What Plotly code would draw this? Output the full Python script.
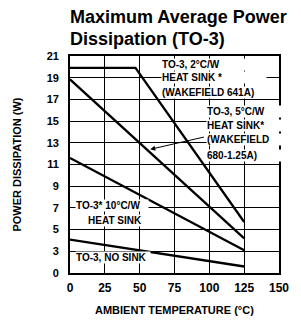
import plotly.graph_objects as go

# Ambient temperature (°C) and power dissipation (W, read on the chart's own scale)
temp_2cw = [0, 47, 125]
pd_2cw = [19.9, 19.9, 5.7]
temp_5cw = [0, 125]
pd_5cw = [18.85, 4.2]
temp_10cw = [0, 125]
pd_10cw = [11.6, 3.1]
temp_nosink = [0, 125]
pd_nosink = [4.07, 1.6]

x_ticks = [0, 25, 50, 75, 100, 125, 150]
y_tickvals = [1, 3, 5, 7, 9, 11, 13, 15, 17, 19, 21]
y_ticktext = ["0", "3", "5", "7", "9", "11", "13", "15", "17", "19", "21"]

FONT = "Liberation Sans, Arial, Helvetica, sans-serif"

fig = go.Figure()
for xs, ys in [(temp_2cw, pd_2cw), (temp_5cw, pd_5cw), (temp_10cw, pd_10cw), (temp_nosink, pd_nosink)]:
    fig.add_trace(go.Scatter(x=xs, y=ys, mode="lines", line=dict(color="black", width=2.3),
                             showlegend=False, hoverinfo="skip"))

lbl = dict(family=FONT, size=10, color="black", weight="bold")
ann = []
def txt(t, x, y, w, xanchor="left", align="left"):
    ann.append(dict(text=t, x=x, y=y, xref="x", yref="y", showarrow=False, xanchor=xanchor,
                    yanchor="middle", font=lbl, bgcolor="white", width=w, align=align, borderpad=0))

# Box A
txt("TO-3, 2°C/W", 65, 20.26, 104)
txt("HEAT SINK *", 65, 19.02, 104)
txt("(WAKEFIELD 641A)", 65, 17.68, 104)
# Box B
txt("TO-3, 5°C/W", 97.5, 15.87, 74)
txt("HEAT SINK*", 97.5, 14.55, 74)
txt("(WAKEFIELD", 97.5, 13.26, 74)
txt("680-1.25A)", 97.5, 11.83, 74)
# Box C
txt("TO-3* 10°C/W", 3.3, 7.18, 72)
txt("HEAT SINK", 32.5, 5.88, 66, xanchor="center", align="center")
# Box D
txt("TO-3, NO SINK", 3.3, 2.41, 74)

# arrow
ann.append(dict(x=57.6, y=12.4, ax=97.2, ay=13.56, xref="x", yref="y", axref="x", ayref="y",
                showarrow=True, arrowhead=2, arrowsize=1, arrowwidth=1, arrowcolor="black", text=""))

# titles
tfont = dict(family=FONT, size=18, color="black", weight="bold")
ann.append(dict(text="Maximum Average Power", x=-0.009, y=1.179, xref="paper", yref="paper",
                showarrow=False, xanchor="left", yanchor="middle", font=tfont))
ann.append(dict(text="Dissipation (TO-3)", x=-0.009, y=1.079, xref="paper", yref="paper",
                showarrow=False, xanchor="left", yanchor="middle", font=tfont))
afont = dict(family=FONT, size=11, color="black", weight="bold")
ann.append(dict(text="AMBIENT TEMPERATURE (°C)", x=0.4977, y=-0.1705, xref="paper", yref="paper",
                showarrow=False, xanchor="center", yanchor="middle", font=afont))
ann.append(dict(text="POWER DISSIPATION (W)", x=-0.258, y=0.5, xref="paper", yref="paper",
                showarrow=False, xanchor="center", yanchor="middle", textangle=-90, font=afont))

# page body has an 8px margin, so the figure is sized/offset to compensate
fig.update_layout(
    width=293, height=317,
    margin=dict(l=62, r=14, t=48, b=52),
    paper_bgcolor="white", plot_bgcolor="white",
    annotations=ann,
    xaxis=dict(range=[0, 150], tickvals=x_ticks, showgrid=True, gridcolor="black", gridwidth=1.1,
               showline=True, linecolor="black", linewidth=1.8, mirror=True, zeroline=False,
               ticks="", ticklabelstandoff=3,
               tickfont=dict(family=FONT, size=12, color="black", weight="bold")),
    yaxis=dict(range=[1, 21], tickvals=y_tickvals, ticktext=y_ticktext, showgrid=True,
               gridcolor="black", gridwidth=1.1, showline=True, linecolor="black", linewidth=1.8,
               mirror=True, zeroline=False, ticks="", ticklabelstandoff=7,
               tickfont=dict(family=FONT, size=11, color="black", weight="bold")),
)
fig.write_html("out.html")
